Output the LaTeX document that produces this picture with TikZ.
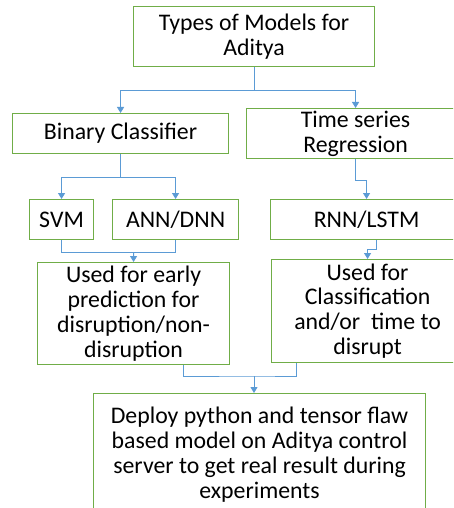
\documentclass[tikz,border=0pt]{standalone}
\usepackage{fontspec}
\setmainfont{Carlito}
\usetikzlibrary{arrows.meta,calc}
\definecolor{boxgreen}{HTML}{70AD47}
\definecolor{lineblue}{HTML}{5B9BD5}
\tikzset{
  box/.style={draw=boxgreen, line width=1.1pt, fill=white, anchor=north west, align=center, inner sep=0pt,
    font=\fontsize{23.8}{24.8}\selectfont},
  conn/.style={draw=lineblue, line width=0.9pt},
  arr/.style={conn, -{Triangle[width=7pt,length=6pt]}}
}
\begin{document}
\begin{tikzpicture}[x=1pt,y=-1pt]
\clip (0,0) rectangle (453,508);
\fill[white] (0,0) rectangle (453,508);
\node[box, minimum width=241pt, minimum height=60pt] (top) at (133,6) {Types of Models for\\[0.8pt]Aditya};
\node[box, minimum width=216pt, minimum height=40pt] (bin) at (12,113) {Binary Classifier};
\node[box, minimum width=218pt, minimum height=50pt] (ts) at (246,108) {Time series\\Regression};
\node[box, minimum width=64pt, minimum height=40pt] (svm) at (29,199) {SVM};
\node[box, minimum width=126pt, minimum height=40pt] (ann) at (112,199) {ANN/DNN};
\node[box, minimum width=192pt, minimum height=40pt] (rnn) at (270,199) {RNN/LSTM};
\node[box, minimum width=192pt, minimum height=102pt] (early) at (37,262) {Used for early\\prediction for\\disruption/non-\\disruption};
\node[box, minimum width=192pt, minimum height=103pt] (cls) at (271,259) {Used for\\Classification\\and/or\ \ time to\\disrupt};
\node[box, minimum width=332pt, minimum height=122pt] (deploy) at (93,393) {Deploy python and tensor flaw\\based model on Aditya control\\server to get real result during\\experiments};
% top -> bin, ts
\coordinate (j1) at ($(top.south)+(0,23)$);
\draw[conn] (top.south) -- (j1);
\draw[arr] (j1) -| (bin.north);
\draw[arr] (j1) -| (ts.north);
% bin -> svm, ann
\coordinate (j2) at ($(bin.south)+(0,23)$);
\draw[conn] (bin.south) -- (j2);
\draw[arr] (j2) -| (svm.north);
\draw[arr] (j2) -| (ann.north);
% ts -> rnn
\coordinate (j3) at ($(ts.south)+(0,21)$);
\draw[arr] (ts.south) -- (j3) -| (rnn.north);
% svm, ann -> early
\coordinate (j4) at ($(svm.south)!0.5!(ann.south)+(15,12)$);
\draw[conn] (svm.south) |- (j4) -| (ann.south);
\draw[arr] (j4) -- (early.north);
% rnn -> cls
\coordinate (r1) at ($(rnn.south)+(10,0)$);
\coordinate (r2) at ($(rnn.south)+(10,9)$);
\draw[arr] (r1) -- (r2) -| (cls.north);
% early, cls -> deploy
\coordinate (e1) at ($(early.south)+(50,0)$);
\coordinate (c1) at ($(cls.south)+(-71,0)$);
\coordinate (j5) at (254,376);
\draw[conn] (e1) |- (j5) -| (c1);
\draw[arr] (j5) -- (j5 |- deploy.north);
\end{tikzpicture}
\end{document}
